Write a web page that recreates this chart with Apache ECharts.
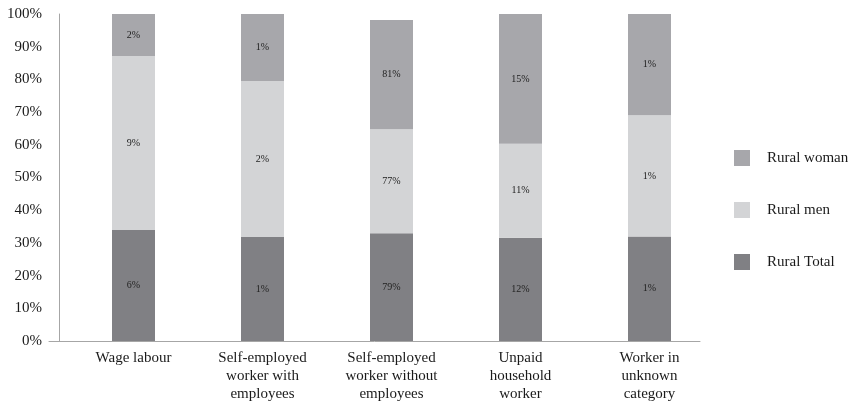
<!DOCTYPE html>
<html>
<head>
<meta charset="utf-8">
<title>Rural employment status</title>
<script src="https://cdn.jsdelivr.net/npm/echarts@6/dist/echarts.min.js"></script>
<style>
  html, body { margin: 0; padding: 0; background: #fff; }
  #chart { width: 856px; height: 407px; }
</style>
</head>
<body>
<div id="chart"></div>
<script>
// Employment status categories along the x axis
const categories = [
  'Wage labour',
  'Self-employed\nworker with\nemployees',
  'Self-employed\nworker without\nemployees',
  'Unpaid\nhousehold\nworker',
  'Worker in\nunknown\ncategory'
];

// Share of each group's workers in the category (%)
const ruralTotal = [5.8, 1.4, 79.4, 12.1, 1.0];
const ruralMen   = [9.1, 2.1, 76.6, 11.0, 1.16];
const ruralWoman = [2.2, 0.9, 80.6, 15.2, 0.97];

// 100% base of each column (column 3 includes an unreported remainder)
const columnBase = [17.1, 4.4, 241.0, 38.3, 3.13];

// Value axis tick labels
const yTicks = [0, 10, 20, 30, 40, 50, 60, 70, 80, 90, 100];

const seriesNames = ['Rural Total', 'Rural men', 'Rural woman'];
const seriesValues = [ruralTotal, ruralMen, ruralWoman];
const colors = ['#808084', '#d3d4d6', '#a7a7ab'];

const FONT = '"Liberation Serif", "DejaVu Serif", serif';
const TEXT = '#1a1a1a';
const AXIS = '#a6a6a6';

const series = seriesValues.map((vals, i) => ({
  name: seriesNames[i],
  type: 'bar',
  stack: 'rural',
  barWidth: 43,
  xAxisIndex: 0,
  yAxisIndex: 0,
  itemStyle: { color: colors[i] },
  label: {
    show: true,
    position: 'inside',
    fontFamily: FONT,
    fontSize: 10,
    color: '#222',
    formatter: p => Math.round(vals[p.dataIndex]) + '%'
  },
  emphasis: { disabled: true },
  data: vals.map((v, k) => +(v / columnBase[k] * 100).toFixed(3))
}));

const chart = echarts.init(document.getElementById('chart'), null, { renderer: 'canvas' });
chart.setOption({
  animation: false,
  backgroundColor: '#fff',
  textStyle: { fontFamily: FONT },
  grid: [
    { left: 69, right: 142, top: 14, bottom: 66 },
    { left: 49, right: 156, top: 14, bottom: 66 }
  ],
  legend: {
    orient: 'vertical',
    left: 734,
    top: 150,
    padding: 0,
    itemWidth: 16,
    itemHeight: 16,
    itemGap: 36,
    icon: 'rect',
    data: ['Rural woman', 'Rural men', 'Rural Total'],
    textStyle: { fontFamily: FONT, fontSize: 15, color: TEXT, padding: [0, 0, 0, 12] }
  },
  xAxis: [
    {
      type: 'category',
      gridIndex: 0,
      data: categories,
      axisLine: { show: false },
      axisTick: { show: false },
      axisLabel: {
        fontFamily: FONT,
        fontSize: 15,
        color: TEXT,
        lineHeight: 18,
        margin: 8,
        interval: 0,
        align: 'center'
      }
    },
    {
      type: 'value',
      gridIndex: 1,
      min: 0,
      max: 1,
      axisLine: { show: true, onZero: false, lineStyle: { color: AXIS, width: 1 } },
      axisTick: { show: false },
      axisLabel: { show: false },
      splitLine: { show: false }
    }
  ],
  yAxis: [
    {
      type: 'value',
      gridIndex: 0,
      min: yTicks[0],
      max: yTicks[yTicks.length - 1],
      interval: yTicks[1] - yTicks[0],
      offset: 10,
      axisLine: { show: true, lineStyle: { color: AXIS, width: 1 } },
      axisTick: { show: false },
      splitLine: { show: false },
      axisLabel: {
        fontFamily: FONT,
        fontSize: 15,
        color: TEXT,
        margin: 17,
        formatter: '{value}%'
      }
    },
    {
      type: 'value',
      gridIndex: 1,
      show: false,
      min: 0,
      max: 1
    }
  ],
  series: series
});
</script>
</body>
</html>
